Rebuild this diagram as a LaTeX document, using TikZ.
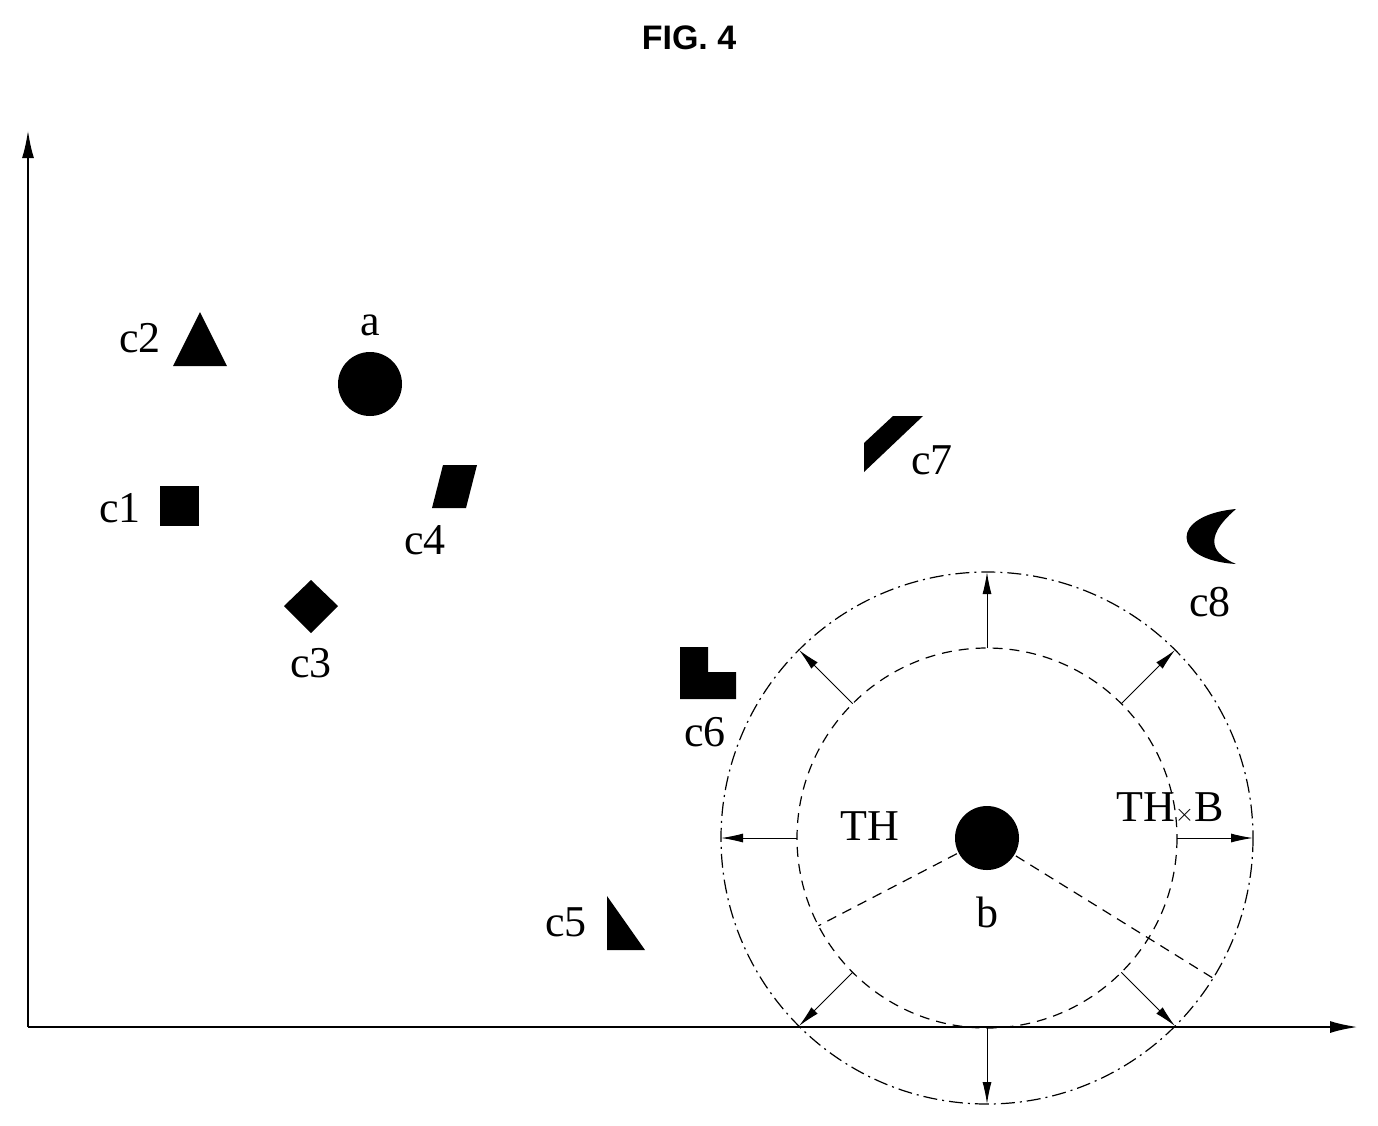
\documentclass[tikz,border=0pt]{standalone}
\usepackage{fontspec}
\setmainfont{Liberation Serif}
\newfontfamily\titlefont{Liberation Sans}
\begin{document}
\begin{tikzpicture}[x=1pt,y=-1pt,
  lbl/.style={font=\fontsize{44}{48}\selectfont, inner sep=0pt},
  ax/.style={line width=2.4pt,-{Latex[length=28pt,width=12pt]}},
  ra/.style={line width=1pt,-{Latex[length=22pt,width=9pt]}},
  shp/.style={fill=black,draw=none}]
\useasboundingbox (0,0) rectangle (1378,1125);
\usetikzlibrary{arrows.meta}
\node[font=\titlefont\bfseries\fontsize{34}{38}\selectfont] (title) at (689,38) {FIG. 4};
\coordinate (o) at (28,1027);
\coordinate (ytop) at (28,130);
\coordinate (xend) at (1358,1027);
\draw[ax] (o) -- (ytop);
\draw[ax] (o) -- (xend);
% b and circles
\coordinate (bc) at (987,838);
\fill (bc) circle (32);
\node[lbl] (b) at (987,912) {b};
\draw[dashed,line width=1.2pt,dash pattern=on 10pt off 7pt] (bc) circle (190);
\draw[line width=1.2pt,dash pattern=on 14pt off 5pt on 2pt off 5pt] (bc) circle (266);
\foreach \a in {0,45,...,315}{
  \draw[ra] ([shift={(\a:190)}]bc) -- ([shift={(\a:266)}]bc);
}
\draw[line width=1.2pt,dash pattern=on 10pt off 7pt] (bc) -- ([shift={(152.5:190)}]bc);
\draw[line width=1.2pt,dash pattern=on 10pt off 7pt] (bc) -- ([shift={(31.8:266)}]bc);
\node[lbl] (th) at (870,826) {TH};
\node[lbl] (thb) at (1170,808) {TH$\times$B};
% a
\fill (370,384) circle (32);
\node[lbl] (a) at (370,325) {a};
% c2
\fill[shp] (173,366) -- (200,312) -- (227,366) -- cycle;
\node[lbl] (c2) at (140,338) {c2};
% c1
\fill[shp] (160,486) rectangle (199,526);
\node[lbl] (c1) at (120,508) {c1};
% c3
\fill[shp] (311,580) -- (338,606) -- (311,633) -- (284,606) -- cycle;
\node[lbl] (c3) at (311,663) {c3};
% c4
\fill[shp] (443,465) -- (477,465) -- (466,508) -- (432,508) -- cycle;
\node[lbl] (c4) at (425,540) {c4};
% c7
\fill[shp] (864,443) -- (893,416) -- (923,416) -- (864,472) -- cycle;
\node[lbl] (c7) at (932,460) {c7};
% c8
\fill[shp] (1236,509) .. controls (1170,515) and (1170,560) .. (1236,564) .. controls (1215,555) and (1200,540) .. (1236,509) -- cycle;
\node[lbl] (c8) at (1210,602) {c8};
% c6
\fill[shp] (680,647) -- (708,647) -- (708,672) -- (736,672) -- (736,699) -- (680,699) -- cycle;
\node[lbl] (c6) at (705,732) {c6};
% c5
\fill[shp] (607,896) -- (607,950) -- (645,950) -- cycle;
\node[lbl] (c5) at (566,922) {c5};
\end{tikzpicture}
\end{document}
